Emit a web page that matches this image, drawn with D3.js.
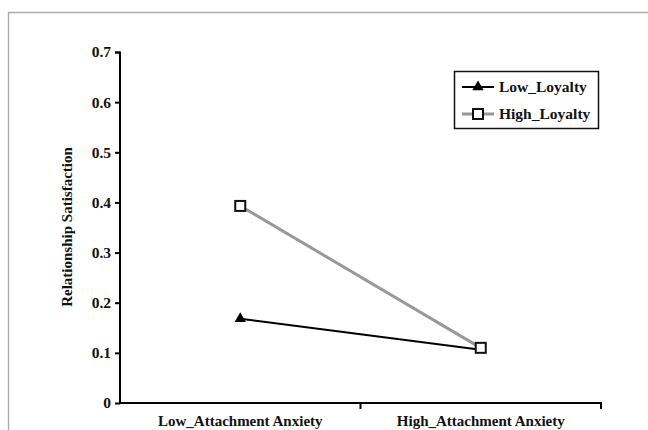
<!DOCTYPE html>
<html><head><meta charset="utf-8">
<script src="https://cdn.jsdelivr.net/npm/d3@7"></script>
<style>body{margin:0;background:#fff}svg{display:block}</style>
</head><body>
<script>
const categories = ["Low_Attachment Anxiety", "High_Attachment Anxiety"];
const lowLoyalty = [0.168, 0.106];
const highLoyalty = [0.393, 0.110];
const yTicks = [0, 0.1, 0.2, 0.3, 0.4, 0.5, 0.6, 0.7];
const seriesNames = ["Low_Loyalty", "High_Loyalty"];

const W = 648, H = 430;
const svg = d3.select("body").append("svg").attr("width", W).attr("height", H);
const font = "'Liberation Serif','Times New Roman',serif";

// outer frame
svg.append("path").attr("d", "M8.5,430 V12.5 H648").attr("fill","none").attr("stroke","#aaa").attr("stroke-width",1.3);

const y = d3.scaleLinear().domain([0, 0.7]).range([403, 52]);
const x = d3.scaleBand().domain(categories).range([120, 601]);
const cx = d => x(d) + x.bandwidth()/2;

// y axis
const yAxis = svg.append("g").attr("transform","translate(120,0)")
  .call(d3.axisLeft(y).tickValues(yTicks).tickFormat(d => d === 0 ? "0" : d3.format(".1f")(d)).tickSize(5).tickPadding(4));
yAxis.select(".domain").attr("stroke","#000").attr("stroke-width",2).attr("d","M-5,52.5H0V403");
yAxis.selectAll(".tick line").attr("stroke","#000").attr("stroke-width",2);
yAxis.selectAll("text").attr("font-family",font).attr("font-weight","bold").attr("font-size",15.5).attr("fill","#111");

// x axis
const xAxis = svg.append("g").attr("transform","translate(0,403)")
  .call(d3.axisBottom(x).tickSize(0).tickPadding(12));
xAxis.select(".domain").attr("stroke","#000").attr("stroke-width",2).attr("d","M120,0H601V6");
xAxis.selectAll("text").attr("font-family",font).attr("font-weight","bold").attr("font-size",15).attr("fill","#111");
// middle tick between categories
xAxis.append("line").attr("x1", x(categories[1])).attr("x2", x(categories[1])).attr("y1",0).attr("y2",6).attr("stroke","#000").attr("stroke-width",2);

// y label
svg.append("text").attr("transform","translate(72,227) rotate(-90)").attr("text-anchor","middle")
  .attr("font-family",font).attr("font-weight","bold").attr("font-size",15).attr("fill","#111")
  .text("Relationship Satisfaction");

const line = d3.line().x((d,i) => cx(categories[i])).y(d => y(d));

svg.append("path").datum(highLoyalty).attr("d", line).attr("fill","none").attr("stroke","#999").attr("stroke-width",3);
svg.append("path").datum(lowLoyalty).attr("d", line).attr("fill","none").attr("stroke","#000").attr("stroke-width",2);

const tri = d3.symbol().type(d3.symbolTriangle).size(55);
svg.selectAll(".tri").data(lowLoyalty).join("path").attr("class","tri")
  .attr("d", tri).attr("transform",(d,i)=>`translate(${cx(categories[i])},${y(d)})`).attr("fill","#000");
svg.selectAll(".sq").data(highLoyalty).join("rect").attr("class","sq")
  .attr("x",(d,i)=>cx(categories[i])-5).attr("y",d=>y(d)-5).attr("width",10).attr("height",10)
  .attr("fill","#fff").attr("stroke","#111").attr("stroke-width",2);

// legend
const lg = svg.append("g");
lg.append("rect").attr("x",454.5).attr("y",71.5).attr("width",144).attr("height",57).attr("fill","#fff").attr("stroke","#111").attr("stroke-width",1.5);
const ly = [87, 114];
lg.append("line").attr("x1",462).attr("x2",494).attr("y1",ly[0]).attr("y2",ly[0]).attr("stroke","#000").attr("stroke-width",2);
lg.append("path").attr("d",tri).attr("transform",`translate(478,${ly[0]})`).attr("fill","#000");
lg.append("line").attr("x1",462).attr("x2",494).attr("y1",ly[1]).attr("y2",ly[1]).attr("stroke","#999").attr("stroke-width",3);
lg.append("rect").attr("x",473).attr("y",ly[1]-5).attr("width",10).attr("height",10).attr("fill","#fff").attr("stroke","#111").attr("stroke-width",2);
seriesNames.forEach((n,i)=>{
  lg.append("text").attr("x",499).attr("y",ly[i]+5).attr("font-family",font).attr("font-weight","bold").attr("font-size",15.5).attr("fill","#111").text(n);
});
</script>
</body></html>
